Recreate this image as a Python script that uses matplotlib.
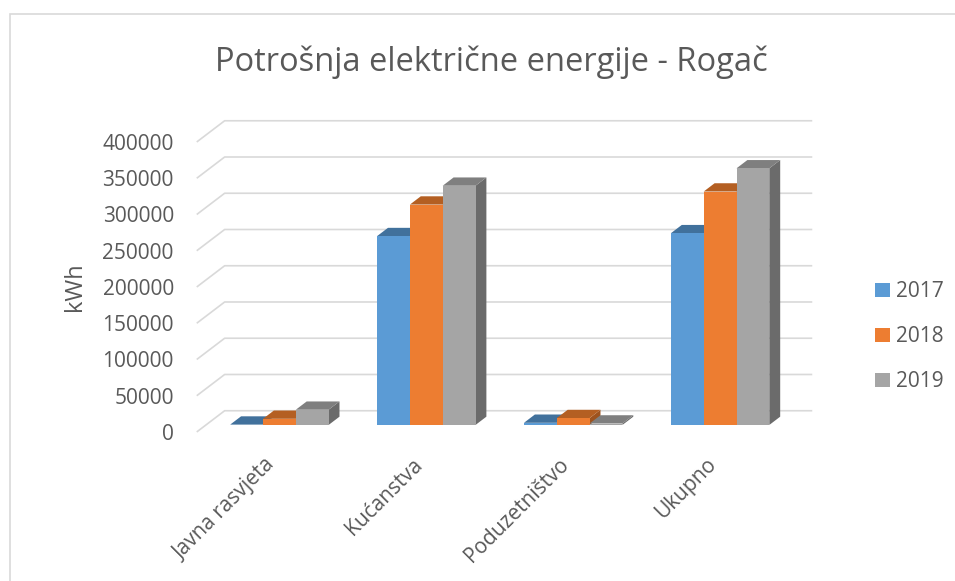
import matplotlib.pyplot as plt
from matplotlib.patches import Polygon, Rectangle

plt.rcParams['font.family'] = ['Open Sans', 'DejaVu Sans']

# data (kWh)
categories = ['Javna rasvjeta', 'Kućanstva', 'Poduzetništvo', 'Ukupno']
years = ['2017', '2018', '2019']
values_2017 = [500, 260500, 3000, 264500]
values_2018 = [8500, 304000, 9500, 322000]
values_2019 = [21000, 330000, 2000, 354000]
yticks = [0, 50000, 100000, 150000, 200000, 250000, 300000, 350000, 400000]

series = [values_2017, values_2018, values_2019]
front_colors = ['#5B9BD5', '#ED7D31', '#A5A5A5']
top_colors = ['#41719C', '#B45F22', '#7F7F7F']
side_colors = ['#38638A', '#9E531E', '#6B6B6B']
text_color = '#595959'
grid_color = '#D9D9D9'

# oblique "3D" geometry in data units
depth_x = 0.19       # horizontal shift of the back wall
depth_y = 29300      # vertical shift of the back wall
bar_front = 0.33     # bars sit between these depth fractions
bar_back = 0.72
bar_w = 0.2233

fig = plt.figure(figsize=(9.55, 5.81), dpi=100)
ax = fig.add_axes([0.206, 0.2565, 0.6153, 0.4991])
ax.set_xlim(-0.5, 3.5)
ax.set_ylim(0, 400000)

# back wall / floor gridlines
for v in yticks:
    ax.plot([-0.5, -0.5 + depth_x, 3.5 + depth_x], [v, v + depth_y, v + depth_y],
            color=grid_color, lw=1.2, clip_on=False, zorder=1, solid_capstyle='butt')

dx = (bar_back - bar_front) * depth_x
dy = (bar_back - bar_front) * depth_y
y0 = bar_front * depth_y
handles = []
for i in range(len(categories)):
    for j, vals in enumerate(series):
        x0 = i - 1.5 * bar_w + j * bar_w + bar_front * depth_x
        h = vals[i]
        side = Polygon([(x0 + bar_w, y0), (x0 + bar_w + dx, y0 + dy),
                        (x0 + bar_w + dx, y0 + h + dy), (x0 + bar_w, y0 + h)],
                       closed=True, facecolor=side_colors[j], edgecolor='none',
                       zorder=3, clip_on=False)
        top = Polygon([(x0, y0 + h), (x0 + bar_w, y0 + h),
                       (x0 + bar_w + dx, y0 + h + dy), (x0 + dx, y0 + h + dy)],
                      closed=True, facecolor=top_colors[j], edgecolor='none',
                      zorder=3, clip_on=False)
        ax.add_patch(side)
        ax.add_patch(top)
        b = ax.bar(x0, h, width=bar_w, bottom=y0, align='edge', color=front_colors[j],
                   zorder=3, clip_on=False)
        if i == 0:
            handles.append(b)

for s in ax.spines.values():
    s.set_visible(False)

ax.set_yticks(yticks)
ax.set_yticklabels([str(v) for v in yticks])
ax.tick_params(axis='y', length=0, pad=16.5, labelsize=15, labelcolor=text_color)

# category labels under the floor, rotated
ax.set_xticks([])
for i, cat in enumerate(categories):
    ax.annotate(cat, xy=(i, 0), xycoords=('data', 'axes fraction'),
                xytext=(-4, -16), textcoords='offset points',
                rotation=45, rotation_mode='anchor', ha='right', va='top',
                fontsize=15, color=text_color, annotation_clip=False)

fig.text(75 / 955, 1 - 287 / 581, 'kWh', rotation=90, ha='center', va='center',
         fontsize=17, color=text_color)
fig.text(0.5147, 1 - 62 / 581, 'Potrošnja električne energije - Rogač',
         ha='center', va='center', fontsize=23.5, color=text_color)

fig.legend(handles=handles, labels=years, loc='center left',
           bbox_to_anchor=(875 / 955, 1 - 336.7 / 581), frameon=False,
           fontsize=15, labelcolor=text_color, handlelength=0.7, handleheight=0.7,
           handletextpad=0.3, labelspacing=1.15, borderpad=0, borderaxespad=0)

# chart border
fig.patches.append(Rectangle((9.5 / 955, -0.05), 1.0, 1.05 - 14.5 / 581,
                             transform=fig.transFigure, fill=False,
                             edgecolor=grid_color, lw=1.2))

fig.savefig('out.png', dpi=100)
